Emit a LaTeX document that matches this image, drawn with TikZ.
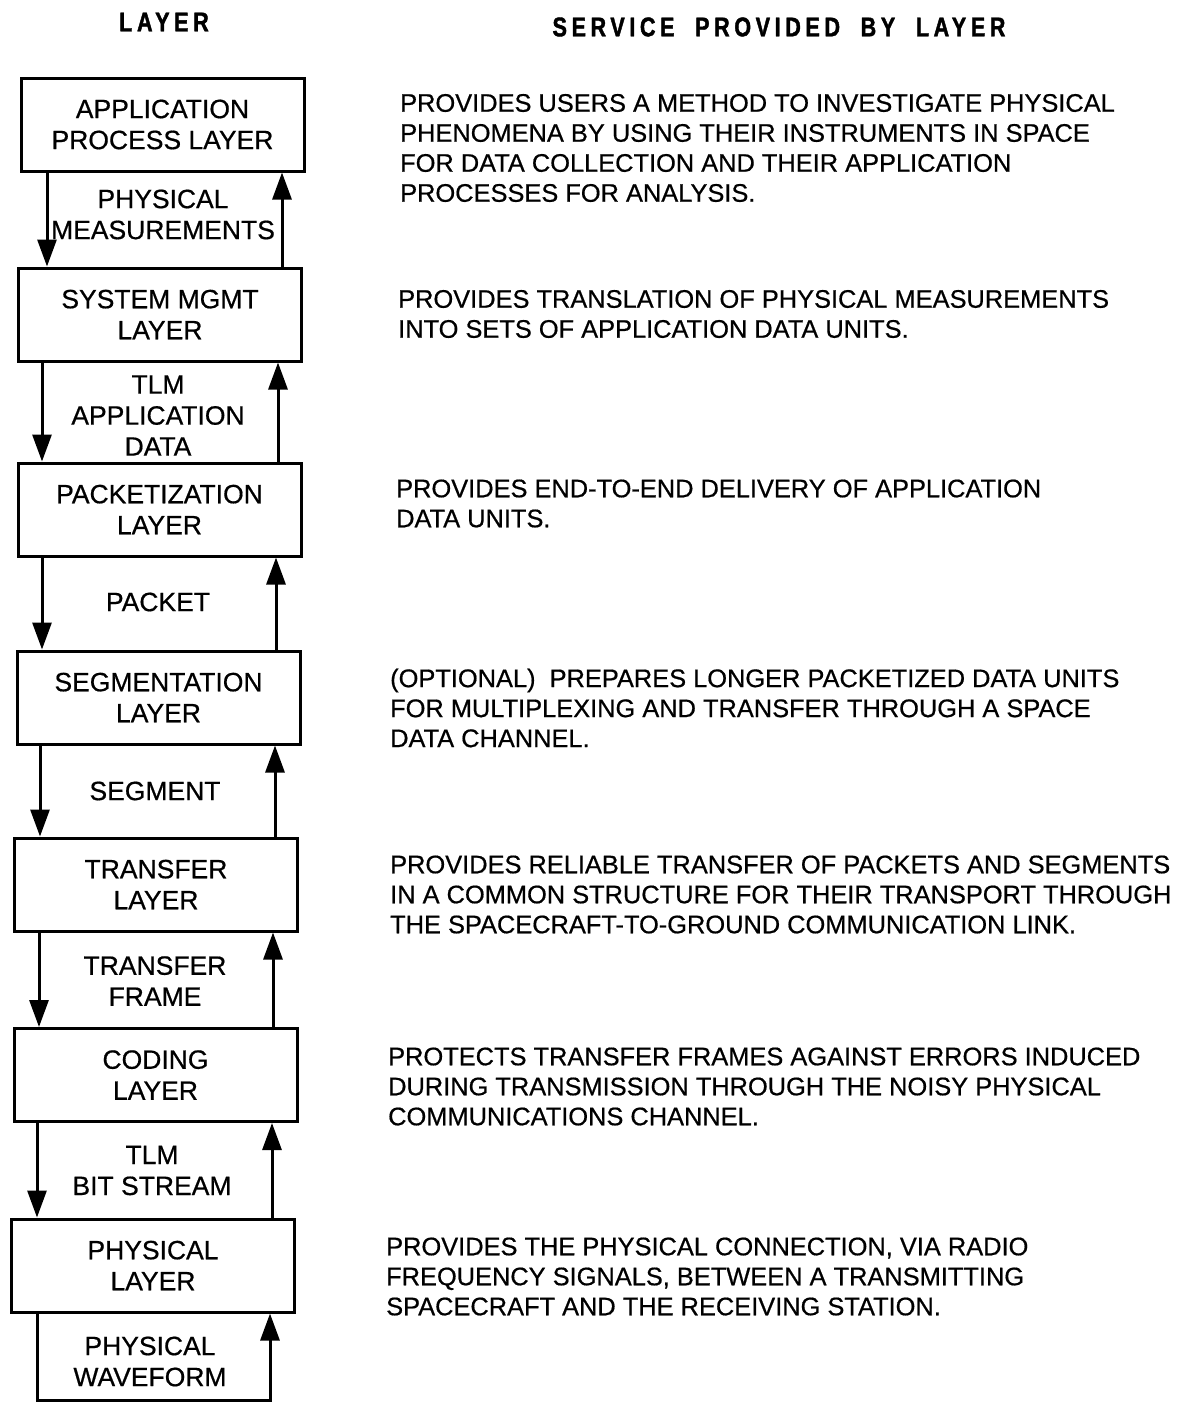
\documentclass[tikz,border=0pt]{standalone}
\usepackage{fontspec}
\setmainfont{Liberation Sans}[FakeBold=0.6]
\newfontfamily\hdrfont{Liberation Sans Bold}[FakeStretch=0.8,LetterSpace=17,FakeBold=1.5]
\usetikzlibrary{arrows.meta}
\begin{document}
\begin{tikzpicture}[x=1pt,y=-1pt,
  layerbox/.style={draw,line width=3pt,minimum width=283pt,minimum height=93pt,inner sep=0pt,
    align=center,font=\fontsize{26.5}{31}\selectfont},
  flowlabel/.style={align=center,inner sep=0pt,font=\fontsize{26.5}{31}\selectfont},
  svctext/.style={anchor=west,align=left,inner sep=0pt,font=\fontsize{25.4}{30}\selectfont},
  header/.style={inner sep=0pt,font=\hdrfont\fontsize{27}{30}\selectfont},
  flow/.style={line width=3pt,-{Triangle[length=27pt,width=19pt]}},
]
\useasboundingbox (0,0) rectangle (1186,1408);

% headers
\node[header] (hL) at (164,22) {LAYER};
\node[header] (hS) at (779,27) {SERVICE\hspace{10pt} PROVIDED\hspace{10pt} BY\hspace{10pt} LAYER};

% layer boxes
\node[layerbox] (b1) at (162.5,124.5) {APPLICATION\\PROCESS LAYER};
\node[layerbox] (b2) at (160,314.5) {SYSTEM MGMT\\LAYER};
\node[layerbox] (b3) at (159.5,509.5) {PACKETIZATION\\LAYER};
\node[layerbox] (b4) at (158.5,697.5) {SEGMENTATION\\LAYER};
\node[layerbox] (b5) at (156,884.5) {TRANSFER\\LAYER};
\node[layerbox] (b6) at (155.5,1075) {CODING\\LAYER};
\node[layerbox] (b7) at (153,1265.5) {PHYSICAL\\LAYER};

% flow labels
\node[flowlabel] (l1) at (163,214.5) {PHYSICAL\\MEASUREMENTS};
\node[flowlabel] (l2) at (158,415.5) {TLM\\APPLICATION\\DATA};
\node[flowlabel] (l3) at (158,602) {PACKET};
\node[flowlabel] (l4) at (155,791) {SEGMENT};
\node[flowlabel] (l5) at (155,981) {TRANSFER\\FRAME};
\node[flowlabel] (l6) at (152,1170.5) {TLM\\BIT STREAM};
\node[flowlabel] (l7) at (150,1361.5) {PHYSICAL\\WAVEFORM};

% arrow columns
\coordinate (dA) at (47,0);  \coordinate (uA) at (282,0);
\coordinate (dB) at (42,0);  \coordinate (uB) at (278,0);
\coordinate (dC) at (42,0);  \coordinate (uC) at (276,0);
\coordinate (dD) at (40,0);  \coordinate (uD) at (275,0);
\coordinate (dE) at (39,0);  \coordinate (uE) at (273,0);
\coordinate (dF) at (37,0);  \coordinate (uF) at (272,0);
\coordinate (botL) at (37,1400); \coordinate (botR) at (270,1400);

\draw[flow] (b1.south -| dA) -- (b2.north -| dA);
\draw[flow] (b2.north -| uA) -- (b1.south -| uA);
\draw[flow] (b2.south -| dB) -- (b3.north -| dB);
\draw[flow] (b3.north -| uB) -- (b2.south -| uB);
\draw[flow] (b3.south -| dC) -- (b4.north -| dC);
\draw[flow] (b4.north -| uC) -- (b3.south -| uC);
\draw[flow] (b4.south -| dD) -- (b5.north -| dD);
\draw[flow] (b5.north -| uD) -- (b4.south -| uD);
\draw[flow] (b5.south -| dE) -- (b6.north -| dE);
\draw[flow] (b6.north -| uE) -- (b5.south -| uE);
\draw[flow] (b6.south -| dF) -- (b7.north -| dF);
\draw[flow] (b7.north -| uF) -- (b6.south -| uF);
\draw[flow,line join=miter] (b7.south -| botL) -- (botL) -- (botR) -- (b7.south -| botR);

% service descriptions
\node[svctext] (s1) at (400,148) {PROVIDES USERS A METHOD TO INVESTIGATE PHYSICAL\\PHENOMENA BY USING THEIR INSTRUMENTS IN SPACE\\FOR DATA COLLECTION AND THEIR APPLICATION\\PROCESSES FOR ANALYSIS.};
\node[svctext] (s2) at (398,314) {PROVIDES TRANSLATION OF PHYSICAL MEASUREMENTS\\INTO SETS OF APPLICATION DATA UNITS.};
\node[svctext] (s3) at (396,503.5) {PROVIDES END-TO-END DELIVERY OF APPLICATION\\DATA UNITS.};
\node[svctext] (s4) at (390,708) {(OPTIONAL)\ \ PREPARES LONGER PACKETIZED DATA UNITS\\FOR MULTIPLEXING AND TRANSFER THROUGH A SPACE\\DATA CHANNEL.};
\node[svctext] (s5) at (390,894.5) {PROVIDES RELIABLE TRANSFER OF PACKETS AND SEGMENTS\\IN A COMMON STRUCTURE FOR THEIR TRANSPORT THROUGH\\THE SPACECRAFT-TO-GROUND COMMUNICATION LINK.};
\node[svctext] (s6) at (388,1086.5) {PROTECTS TRANSFER FRAMES AGAINST ERRORS INDUCED\\DURING TRANSMISSION THROUGH THE NOISY PHYSICAL\\COMMUNICATIONS CHANNEL.};
\node[svctext] (s7) at (386,1276.5) {PROVIDES THE PHYSICAL CONNECTION, VIA RADIO\\FREQUENCY SIGNALS, BETWEEN A TRANSMITTING\\SPACECRAFT AND THE RECEIVING STATION.};
\end{tikzpicture}
\end{document}
